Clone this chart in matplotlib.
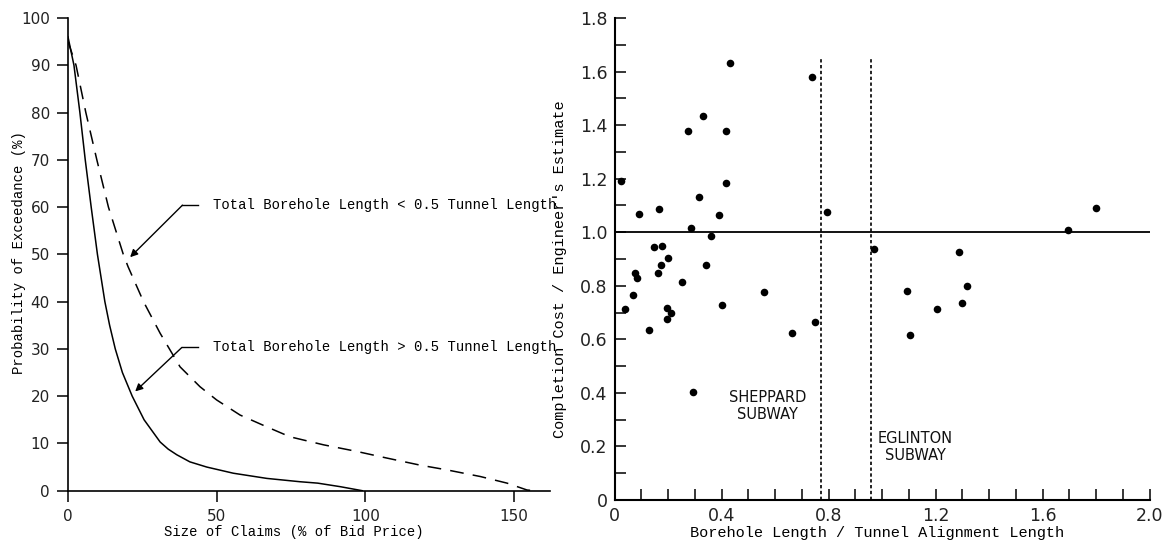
import matplotlib
matplotlib.use("Agg")
import matplotlib.pyplot as plt
from matplotlib.ticker import MultipleLocator

# ---------------- data: left panel (exceedance curves) ----------------
solid_x = [0, 2.0, 4.0, 5.8, 7.8, 9.9, 12.4, 14.0, 15.9, 18.3, 21.6, 25.6, 31, 33.7, 36.6,
           41, 46.7, 55.6, 66.9, 78, 84, 91.6, 99]
solid_y = [96, 90, 80, 70, 60, 50, 40, 35, 30, 25, 20, 15, 10.3, 8.8, 7.6,
           6.1, 5.0, 3.7, 2.6, 1.9, 1.6, 0.85, 0]

dash_x = [0, 2.7, 6.0, 9.7, 13.6, 18.6, 20.2, 25.4, 31, 37.7, 44.4, 50, 57.9, 66.9, 74.7,
          86, 97.2, 107.3, 118.5, 127.5, 138.7, 147.7, 154.4, 157]
dash_y = [95, 90, 80, 70, 60, 50, 47.4, 40, 33.3, 26.2, 22, 19.2, 16, 13.5, 11.4,
          9.7, 8.3, 6.9, 5.4, 4.4, 3.0, 1.6, 0.15, 0]

left_xticks = [0, 50, 100, 150]
left_yticks = [0, 10, 20, 30, 40, 50, 60, 70, 80, 90, 100]

label_lt = "Total Borehole Length < 0.5 Tunnel Length"
label_gt = "Total Borehole Length > 0.5 Tunnel Length"

# ---------------- data: right panel (scatter) ----------------
ratio_x = [0.024, 0.038, 0.092, 0.069, 0.077, 0.084, 0.166, 0.146, 0.176, 0.199, 0.174,
           0.161, 0.252, 0.196, 0.211, 0.196, 0.129, 0.400, 0.292, 0.287, 0.317, 0.359,
           0.343, 0.390, 0.417, 0.276, 0.332, 0.417, 0.431, 0.739, 0.560, 0.664, 0.749,
           0.793, 0.969, 1.286, 1.695, 1.799, 1.092, 1.104, 1.204, 1.297, 1.319]
cost_y = [1.19, 0.713, 1.067, 0.766, 0.848, 0.830, 1.086, 0.944, 0.950, 0.904, 0.879,
          0.847, 0.813, 0.718, 0.699, 0.676, 0.633, 0.730, 0.403, 1.017, 1.132, 0.985,
          0.879, 1.063, 1.183, 1.377, 1.435, 1.378, 1.632, 1.580, 0.775, 0.623, 0.664,
          1.075, 0.939, 0.926, 1.010, 1.091, 0.780, 0.616, 0.715, 0.736, 0.799]

subway_x = [0.770, 0.957]
subway_names = ["SHEPPARD\nSUBWAY", "EGLINTON\nSUBWAY"]

right_xticks = [0, 0.4, 0.8, 1.2, 1.6, 2.0]
right_xlabels = ["0", "0.4", "0.8", "1.2", "1.6", "2.0"]
right_yticks = [0, 0.2, 0.4, 0.6, 0.8, 1.0, 1.2, 1.4, 1.6, 1.8]
right_ylabels = ["0", "0.2", "0.4", "0.6", "0.8", "1.0", "1.2", "1.4", "1.6", "1.8"]

MONO = ["Liberation Mono", "DejaVu Sans Mono"]
TICKF = "DejaVu Sans"

W, H = 1165, 542
fig = plt.figure(figsize=(W / 100, H / 100), dpi=100)
fig.patch.set_facecolor("white")

# ---------------- left panel ----------------
ax1 = fig.add_axes([68 / W, (H - 490.7) / H, 487.5 / W, 472.7 / H])
ax1.plot(solid_x, solid_y, color="black", lw=1.1, solid_joinstyle="round")
ax1.plot(dash_x, dash_y, color="black", lw=1.1, dashes=(9, 6))
ax1.set_xlim(0, 164)
ax1.set_ylim(0, 100)
for s in ["top", "right"]:
    ax1.spines[s].set_visible(False)
ax1.spines["bottom"].set_bounds(0, 162)
for s in ["left", "bottom"]:
    ax1.spines[s].set_linewidth(1.2)
ax1.set_xticks(left_xticks)
ax1.set_yticks(left_yticks)
ax1.tick_params(direction="out", length=8, width=1.1, labelsize=11, pad=5)
for lab in ax1.get_xticklabels() + ax1.get_yticklabels():
    lab.set_family(TICKF)
    lab.set_color("#222222")

ax1.set_xlabel("Size of Claims (% of Bid Price)", family=MONO, fontsize=10, va="center")
ax1.xaxis.set_label_coords(0.4627, -0.0874)
ax1.set_ylabel("Probability of Exceedance (%)", family=MONO, fontsize=10, va="center")
ax1.yaxis.set_label_coords(-0.100, 0.503)

# annotation 1 (< 0.5)
ax1.plot([38.5, 43.8], [60.4, 60.4], color="black", lw=1.0)
ax1.annotate("", xy=(20.9, 49.4), xytext=(38.5, 60.4),
             arrowprops=dict(arrowstyle="-|>", lw=1.0, color="black",
                             shrinkA=0, shrinkB=0, mutation_scale=11))
ax1.text(48.8, 60.4, label_lt, family=MONO, fontsize=10, ha="left", va="center",
         clip_on=True)
# annotation 2 (> 0.5)
ax1.plot([38.3, 43.8], [30.3, 30.3], color="black", lw=1.0)
ax1.annotate("", xy=(22.6, 21.0), xytext=(38.3, 30.3),
             arrowprops=dict(arrowstyle="-|>", lw=1.0, color="black",
                             shrinkA=0, shrinkB=0, mutation_scale=11))
ax1.text(48.8, 30.3, label_gt, family=MONO, fontsize=10, ha="left", va="center",
         clip_on=True)

# ---------------- right panel ----------------
ax2 = fig.add_axes([614.5 / W, 42 / H, 535.2 / W, 482 / H])
ax2.scatter(ratio_x, cost_y, s=30, color="black", zorder=3, linewidths=0)
ax2.axhline(1.0, color="black", lw=1.3)
ax2.vlines(subway_x, 0, 1.655, colors="black", lw=1.2, linestyles=(0, (2, 1.5)))
ax2.set_xlim(0, 2.0)
ax2.set_ylim(0, 1.8)
for s in ["top", "right"]:
    ax2.spines[s].set_visible(False)
for s in ["left", "bottom"]:
    ax2.spines[s].set_linewidth(1.5)
ax2.set_xticks(right_xticks)
ax2.set_xticklabels(right_xlabels)
ax2.set_yticks(right_yticks)
ax2.set_yticklabels(right_ylabels)
ax2.xaxis.set_minor_locator(MultipleLocator(0.1))
ax2.yaxis.set_minor_locator(MultipleLocator(0.1))
ax2.tick_params(which="both", direction="in", length=8, width=1.1)
ax2.tick_params(which="major", labelsize=12.5, pad=5)
for lab in ax2.get_xticklabels() + ax2.get_yticklabels():
    lab.set_family(TICKF)
    lab.set_color("#222222")

ax2.set_xlabel("Borehole Length / Tunnel Alignment Length", family=MONO, fontsize=11,
               va="center")
ax2.xaxis.set_label_coords(0.49, -0.068)
ax2.set_ylabel("Completion Cost / Engineer's Estimate", family=MONO, fontsize=11,
               va="center")
ax2.yaxis.set_label_coords(-0.101, 0.478)

ax2.text(0.571, 0.351, subway_names[0], family="DejaVu Sans", fontsize=10.5,
         ha="center", va="center", linespacing=1.2, color="#111111")
ax2.text(1.124, 0.199, subway_names[1], family="DejaVu Sans", fontsize=10.5,
         ha="center", va="center", linespacing=1.2, color="#111111")

fig.savefig("out.png", dpi=100, facecolor="white")
